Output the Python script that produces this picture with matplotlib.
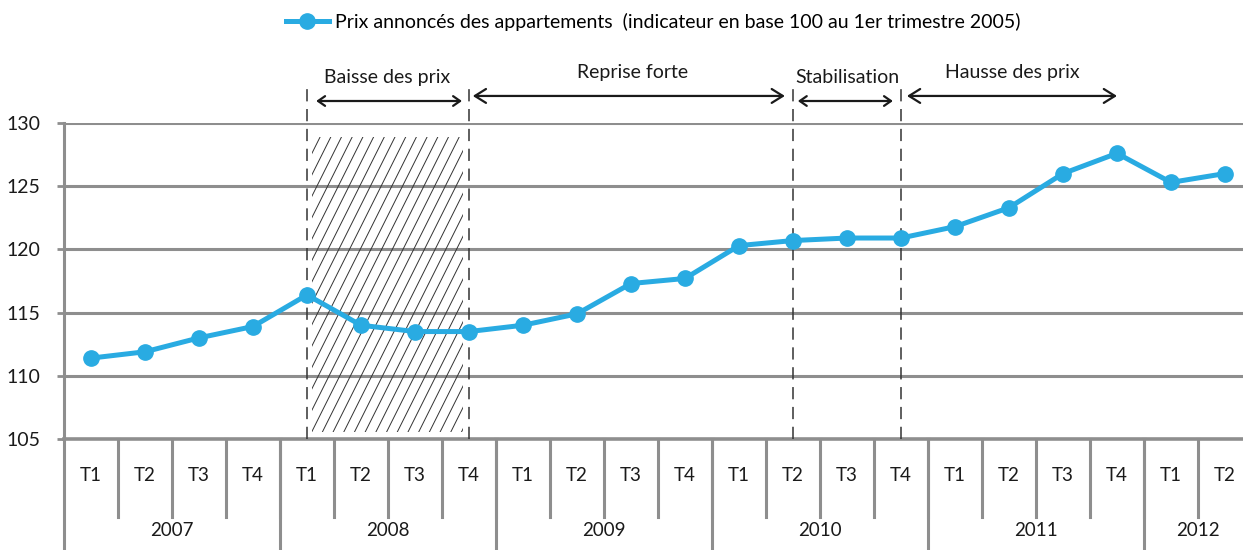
import matplotlib
matplotlib.use("Agg")
import matplotlib.pyplot as plt
from matplotlib.patches import Rectangle
from matplotlib.transforms import blended_transform_factory

plt.rcParams['font.family'] = ['Lato', 'DejaVu Sans']

# =====================
# DATA
# =====================
years = ["2007", "2008", "2009", "2010", "2011", "2012"]
quarters_per_year = [4, 4, 4, 4, 4, 2]
quarter_labels = ["T1", "T2", "T3", "T4"] * 5 + ["T1", "T2"]
prices = [111.4, 111.9, 113.0, 113.9,
          116.4, 114.0, 113.5, 113.5,
          114.0, 114.9, 117.3, 117.7,
          120.3, 120.7, 120.9, 120.9,
          121.8, 123.3, 126.0, 127.6,
          125.3, 126.0]
series_label = "Prix annoncés des appartements  (indicateur en base 100 au 1er trimestre 2005)"

phases = ["Baisse des prix", "Reprise forte", "Stabilisation", "Hausse des prix"]
phase_dashes = [4, 7, 13, 15]   # quarter index of the dashed separators

BLUE = "#29abe2"
GRID = "#8e8e8e"
INK = "#1a1a1a"

fig = plt.figure(figsize=(12.43, 5.5), dpi=100)
# category width ~54 px, last column runs a bit past the right edge
ax = fig.add_axes([64 / 1243, 111 / 550, 1188 / 1243, 316 / 550])

n = len(prices)
xs = [i + 0.5 for i in range(n)]

ax.set_xlim(0, n)
ax.set_ylim(105, 130)
ax.set_yticks([105, 110, 115, 120, 125, 130])
ax.set_xticks([])
for s in ["top", "right", "bottom"]:
    ax.spines[s].set_visible(False)
ax.spines["left"].set_color(GRID)
ax.spines["left"].set_linewidth(2.2)
ax.tick_params(axis="y", length=5, width=2, color=GRID, labelsize=14,
               pad=12, labelcolor=INK)

for v in [110, 115, 120, 125, 130]:
    ax.axhline(v, color=GRID, lw=2.2, zorder=1)
ax.axhline(105, color=GRID, lw=2.6, zorder=1, clip_on=False)

# hatched "baisse" area, steep thin lines clipped to a box
px_x = 1 / 54.0     # data units per pixel
px_y = 1 / 12.64
box = Rectangle((4.59, 105.55), 2.8, 23.35, facecolor="none", lw=0,
                transform=ax.transData)
ax.add_patch(box)
x0 = 4.59 - 150 * px_x
while x0 < 7.5:
    ln, = ax.plot([x0, x0 + 150 * px_x], [105.55, 105.55 + 300 * px_y],
                  color="#333333", lw=0.7, zorder=2)
    ln.set_clip_path(box)
    x0 += 10.7 * px_x

# dashed phase separators
for q in phase_dashes:
    ax.plot([q + 0.5, q + 0.5], [105, 132.8], color="#333333", lw=1.1,
            ls=(0, (8, 5)), clip_on=False, zorder=2)

ax.plot(xs, prices, color=BLUE, lw=3.6, marker="o", markersize=11,
        label=series_label, zorder=5)

# phase arrows and labels
arrows = [(4.67, 7.37, 131.74, 5.98, 133.6, "<->,head_length=0.5,head_width=0.35"),
          (7.57, 13.35, 132.14, 10.52, 134.0, "<->,head_length=0.8,head_width=0.5"),
          (13.59, 15.35, 131.74, 14.5, 133.6, "<->,head_length=0.5,head_width=0.35"),
          (15.61, 19.5, 132.14, 17.57, 134.0, "<->,head_length=0.8,head_width=0.5")]
for name, (a0, a1, ya, xt, yt, style) in zip(phases, arrows):
    ax.annotate("", xy=(a0, ya), xytext=(a1, ya),
                arrowprops=dict(arrowstyle=style, color=INK, lw=1.6,
                                shrinkA=0, shrinkB=0),
                annotation_clip=False)
    ax.text(xt, yt, name, ha="center", va="center", fontsize=14,
            color=INK, clip_on=False)

# category axis below the plot
trans = blended_transform_factory(ax.transData, ax.transAxes)
for i, lab in enumerate(quarter_labels):
    ax.text(i + 0.5, -0.115, lab, transform=trans, ha="center", va="center",
            fontsize=13.5, color=INK)
for i in range(1, n):
    ax.plot([i, i], [0, -0.247], transform=trans, color=GRID, lw=2.2,
            clip_on=False)

start = 0
for yr, cnt in zip(years, quarters_per_year):
    ax.text(start + cnt / 2, -0.29, yr, transform=trans, ha="center",
            va="center", fontsize=13.5, color=INK)
    start += cnt
    if start < n:
        ax.plot([start, start], [0, -0.36], transform=trans, color=GRID,
                lw=2.2, clip_on=False)
ax.plot([0, 0], [0, -0.36], transform=trans, color=GRID, lw=2.2,
        clip_on=False)

fig.legend(loc="center", bbox_to_anchor=(653 / 1243, 0.96), frameon=False,
           fontsize=14, handlelength=2.2, handletextpad=0.3)

fig.savefig("out.png", dpi=100)
